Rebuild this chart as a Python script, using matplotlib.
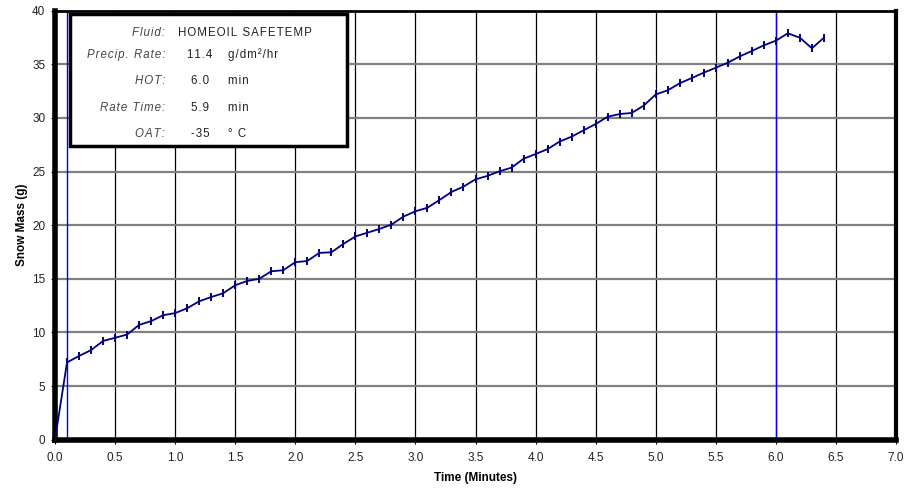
import matplotlib
matplotlib.use("Agg")
import matplotlib.pyplot as plt
from matplotlib import font_manager

time_min = [0.0, 0.1, 0.2, 0.3, 0.4, 0.5, 0.6, 0.7, 0.8, 0.9,
            1.0, 1.1, 1.2, 1.3, 1.4, 1.5, 1.6, 1.7, 1.8, 1.9,
            2.0, 2.1, 2.2, 2.3, 2.4, 2.5, 2.6, 2.7, 2.8, 2.9,
            3.0, 3.1, 3.2, 3.3, 3.4, 3.5, 3.6, 3.7, 3.8, 3.9,
            4.0, 4.1, 4.2, 4.3, 4.4, 4.5, 4.6, 4.7, 4.8, 4.9,
            5.0, 5.1, 5.2, 5.3, 5.4, 5.5, 5.6, 5.7, 5.8, 5.9,
            6.0, 6.1, 6.2, 6.3, 6.4]
snow_mass = [0.0, 7.2, 7.8, 8.35, 9.2, 9.5, 9.8, 10.7, 11.05, 11.6,
             11.8, 12.25, 12.9, 13.3, 13.65, 14.4, 14.8, 15.0, 15.7, 15.8,
             16.55, 16.66, 17.42, 17.47, 18.25, 18.95, 19.3, 19.65, 20.05, 20.8,
             21.3, 21.63, 22.35, 23.1, 23.6, 24.28, 24.6, 25.03, 25.37, 26.2,
             26.64, 27.1, 27.8, 28.26, 28.85, 29.44, 30.12, 30.37, 30.47, 31.15,
             32.2, 32.58, 33.24, 33.73, 34.23, 34.69, 35.16, 35.75, 36.25, 36.78,
             37.21, 37.9, 37.49, 36.5, 37.49]
marker_lines = [0.1, 6.0]

legend_labels = ["Fluid:", "Precip. Rate:", "HOT:", "Rate Time:", "OAT:"]
legend_values = ["HOMEOIL SAFETEMP", "11.4", "6.0", "5.9", "-35"]
legend_units = ["", "g/dm\u00b2/hr", "min", "min", "\u00b0 C"]

x_ticks = [0.0, 0.5, 1.0, 1.5, 2.0, 2.5, 3.0, 3.5, 4.0, 4.5, 5.0, 5.5, 6.0, 6.5, 7.0]
y_ticks = [0, 5, 10, 15, 20, 25, 30, 35, 40]

names = {f.name for f in font_manager.fontManager.ttflist}
narrow = 'Liberation Sans Narrow' if 'Liberation Sans Narrow' in names else 'Liberation Sans'
plt.rcParams['font.family'] = [narrow, 'DejaVu Sans']


def spaced(s):
    return "\u200a".join(s)


fig = plt.figure(figsize=(9.05, 4.9), dpi=100)
ax = fig.add_axes([55/905, 1-439.6/490, (896-55)/905, (439.6-10.8)/490])

ax.set_xlim(0, 7)
ax.set_ylim(0, 40)
ax.set_xticks(x_ticks)
ax.set_xticklabels([f"{v:.1f}" for v in x_ticks], fontsize=8.5, color='#222222')
ax.set_yticks(y_ticks)
ax.set_yticklabels([str(v) for v in y_ticks], fontsize=8.5, color='#222222')
ax.tick_params(axis='x', direction='out', length=3, width=0.8, pad=6)
ax.tick_params(axis='y', direction='out', length=3, width=0.8, pad=4)

for x in x_ticks[1:-1]:
    ax.axvline(x, color='black', lw=0.9, zorder=1)
for y in y_ticks[1:-1]:
    ax.axhline(y, color='#808080', lw=1.6, zorder=1)

for x in marker_lines:
    ax.axvline(x, color='#0000ff', lw=1.0, zorder=2)

ax.plot(time_min, snow_mass, color='#000080', lw=1.3, marker='|',
        markersize=6, markeredgewidth=1.4, zorder=3)

ax.spines['left'].set_linewidth(4)
ax.spines['bottom'].set_linewidth(4)
ax.spines['right'].set_linewidth(3)
ax.spines['top'].set_linewidth(2)
for s in ax.spines.values():
    s.set_color('black')

ax.set_xlabel("Time (Minutes)", fontsize=8.5, fontweight='bold', labelpad=6)
ax.set_ylabel("Snow Mass (g)", fontsize=8.5, fontweight='bold', labelpad=3)

# info box
bx0, by0, bx1, by1 = 70/905, 1-146/490, 347/905, 1-14/490
rect = plt.Rectangle((bx0, by0), bx1-bx0, by1-by0, transform=fig.transFigure,
                     facecolor='white', edgecolor='black', lw=2.5, zorder=5)
fig.patches.append(rect)
rows_y = [33, 55, 81, 108, 134]
fs = 8.3
for lab, val, unit, yy in zip(legend_labels, legend_values, legend_units, rows_y):
    fy = 1 - yy/490
    fig.text(165/905, fy, spaced(lab), ha='right', va='center', fontsize=fs,
             style='italic', color='#444444', zorder=6)
    if unit == "":
        fig.text(178/905, fy, spaced(val), ha='left', va='center', fontsize=fs,
                 color='#222222', zorder=6)
    else:
        fig.text(200/905, fy, spaced(val), ha='center', va='center', fontsize=fs,
                 color='#222222', zorder=6)
        fig.text(228/905, fy, spaced(unit), ha='left', va='center', fontsize=fs,
                 color='#222222', zorder=6)

fig.savefig("out.png", dpi=100)
